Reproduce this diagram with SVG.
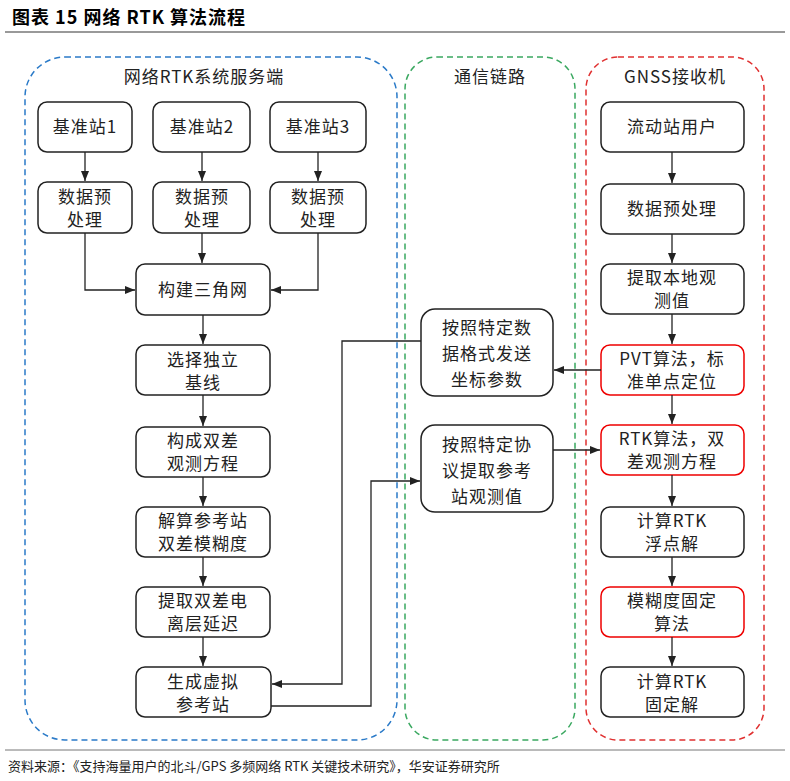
<svg xmlns="http://www.w3.org/2000/svg" width="790" height="781" viewBox="0 0 790 781">
<style>
text{font-family:"Noto Sans CJK SC","Liberation Sans",sans-serif;font-size:17px;fill:#222;text-anchor:middle;letter-spacing:1px}
.b rect{fill:#fff;stroke:#222;stroke-width:1.5}
.r rect{stroke:#e00}
.c path{fill:none;stroke:#222;stroke-width:1.3;marker-end:url(#a)}
.t{font-weight:bold;font-size:18px;text-anchor:start;fill:#000}
.f{font-size:13px;text-anchor:start;letter-spacing:0}
</style>
<defs><marker id="a" viewBox="0 0 10 10" refX="10" refY="5" markerWidth="8" markerHeight="8" orient="auto"><path d="M0,1L10,5L0,9z" fill="#222"/></marker></defs>
<rect width="790" height="781" fill="#fff"/>
<text class="t" x="12" y="24">图表 15  网络 RTK 算法流程</text>
<line x1="5" y1="32" x2="785" y2="32" stroke="#777" stroke-width="1.5"/>
<rect x="25" y="57" width="372" height="683" rx="40" fill="none" stroke="#2a7ac8" stroke-width="1.5" stroke-dasharray="6,4"/>
<rect x="405" y="57" width="170" height="683" rx="32" fill="none" stroke="#3aa860" stroke-width="1.5" stroke-dasharray="6,4"/>
<rect x="586" y="57" width="178" height="683" rx="32" fill="none" stroke="#e03030" stroke-width="1.5" stroke-dasharray="6,4"/>
<text x="204" y="83">网络RTK系统服务端</text>
<text x="490" y="83">通信链路</text>
<text x="675" y="83">GNSS接收机</text>
<g class="b">
<g id="s1"><rect x="38" y="102" width="94" height="50" rx="9"/><text x="85" y="133">基准站1</text></g>
<g id="s2"><rect x="153" y="102" width="97" height="50" rx="9"/><text x="202" y="133">基准站2</text></g>
<g id="s3"><rect x="270" y="102" width="96" height="50" rx="9"/><text x="318" y="133">基准站3</text></g>
<g id="p1"><rect x="38" y="182" width="94" height="51" rx="9"/><text x="85" y="203">数据预</text><text x="85" y="226">处理</text></g>
<g id="p2"><rect x="153" y="182" width="97" height="51" rx="9"/><text x="202" y="203">数据预</text><text x="202" y="226">处理</text></g>
<g id="p3"><rect x="270" y="182" width="96" height="51" rx="9"/><text x="318" y="203">数据预</text><text x="318" y="226">处理</text></g>
<g id="n1"><rect x="136" y="264" width="134" height="51" rx="9"/><text x="203" y="296">构建三角网</text></g>
<g id="n2"><rect x="136" y="345" width="134" height="50" rx="9"/><text x="203" y="366">选择独立</text><text x="203" y="389">基线</text></g>
<g id="n3"><rect x="136" y="427" width="134" height="50" rx="9"/><text x="203" y="447">构成双差</text><text x="203" y="470">观测方程</text></g>
<g id="n4"><rect x="136" y="507" width="134" height="50" rx="9"/><text x="203" y="527">解算参考站</text><text x="203" y="550">双差模糊度</text></g>
<g id="n5"><rect x="136" y="587" width="134" height="50" rx="9"/><text x="203" y="607">提取双差电</text><text x="203" y="630">离层延迟</text></g>
<g id="n6"><rect x="136" y="667" width="135" height="50" rx="9"/><text x="203" y="688">生成虚拟</text><text x="203" y="711">参考站</text></g>
<g id="m1"><rect x="421" y="309" width="132" height="87" rx="14"/><text x="487" y="334">按照特定数</text><text x="487" y="360">据格式发送</text><text x="487" y="386">坐标参数</text></g>
<g id="m2"><rect x="421" y="425" width="132" height="87" rx="14"/><text x="487" y="451">按照特定协</text><text x="487" y="477">议提取参考</text><text x="487" y="503">站观测值</text></g>
<g id="g1"><rect x="601" y="102" width="143" height="50" rx="9"/><text x="672" y="133">流动站用户</text></g>
<g id="g2"><rect x="601" y="184" width="143" height="50" rx="9"/><text x="672" y="215">数据预处理</text></g>
<g id="g3"><rect x="601" y="264" width="143" height="50" rx="9"/><text x="672" y="284">提取本地观</text><text x="672" y="307">测值</text></g>
<g id="g4" class="r"><rect x="601" y="345" width="143" height="50" rx="9"/><text x="672" y="365">PVT算法，标</text><text x="672" y="388">准单点定位</text></g>
<g id="g5" class="r"><rect x="601" y="425" width="143" height="50" rx="9"/><text x="672" y="445">RTK算法，双</text><text x="672" y="468">差观测方程</text></g>
<g id="g6"><rect x="601" y="507" width="143" height="50" rx="9"/><text x="672" y="527">计算RTK</text><text x="672" y="550">浮点解</text></g>
<g id="g7" class="r"><rect x="601" y="587" width="143" height="50" rx="9"/><text x="672" y="607">模糊度固定</text><text x="672" y="630">算法</text></g>
<g id="g8"><rect x="601" y="667" width="143" height="50" rx="9"/><text x="672" y="688">计算RTK</text><text x="672" y="711">固定解</text></g>
</g>
<g class="c">
<path d="M85,152V181"/><path d="M202,152V181"/><path d="M318,152V181"/>
<path d="M85,233V290H135"/><path d="M318,233V290H271"/><path d="M202,233V263"/>
<path d="M203,315V344"/><path d="M203,395V426"/><path d="M203,477V506"/><path d="M203,557V586"/><path d="M203,637V666"/>
<path d="M421,341H342V684H272"/>
<path d="M271,706H371V481H420"/>
<path d="M601,370H554"/>
<path d="M553,450H600"/>
<path d="M672,152V183"/><path d="M672,234V263"/><path d="M672,314V344"/><path d="M672,395V424"/><path d="M672,475V506"/><path d="M672,557V586"/><path d="M672,637V666"/>
</g>
<line x1="5" y1="750" x2="785" y2="750" stroke="#777" stroke-width="1"/>
<text class="f" x="8" y="771">资料来源：《支持海量用户的北斗/GPS 多频网络 RTK 关键技术研究》，华安证券研究所</text>
</svg>
